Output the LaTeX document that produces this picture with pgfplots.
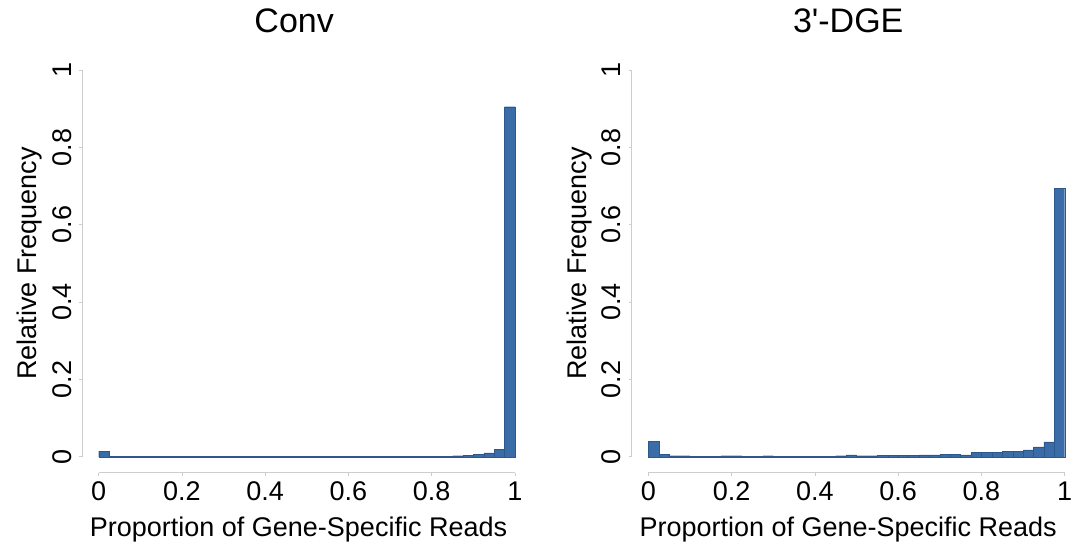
\documentclass[border=0pt]{standalone}
\usepackage{pgfplots}
\pgfplotsset{compat=1.18}
\usepackage{fontspec}
\setmainfont{Liberation Sans}
\definecolor{barblue}{RGB}{58,108,168}
\definecolor{baredge}{RGB}{45,88,140}
\definecolor{axgray}{RGB}{205,205,205}

\pgfplotstableread{
x y
0.000 0.015
0.025 0.002
0.050 0.002
0.075 0.002
0.100 0.001
0.125 0.001
0.150 0.001
0.175 0.001
0.200 0.001
0.225 0.001
0.250 0.001
0.275 0.001
0.300 0.001
0.325 0.001
0.350 0.001
0.375 0.001
0.400 0.001
0.425 0.001
0.450 0.001
0.475 0.001
0.500 0.001
0.525 0.001
0.550 0.001
0.575 0.001
0.600 0.001
0.625 0.001
0.650 0.001
0.675 0.001
0.700 0.001
0.725 0.001
0.750 0.002
0.775 0.002
0.800 0.002
0.825 0.002
0.850 0.003
0.875 0.004
0.900 0.006
0.925 0.010
0.950 0.019
0.975 0.905
1.000 0.905
}\convdata

\pgfplotstableread{
x y
0.000 0.040
0.025 0.006
0.050 0.003
0.075 0.003
0.100 0.002
0.125 0.002
0.150 0.002
0.175 0.003
0.200 0.003
0.225 0.002
0.250 0.002
0.275 0.003
0.300 0.002
0.325 0.002
0.350 0.002
0.375 0.002
0.400 0.002
0.425 0.002
0.450 0.003
0.475 0.005
0.500 0.003
0.525 0.003
0.550 0.004
0.575 0.004
0.600 0.004
0.625 0.004
0.650 0.005
0.675 0.005
0.700 0.006
0.725 0.007
0.750 0.005
0.775 0.011
0.800 0.011
0.825 0.011
0.850 0.014
0.875 0.014
0.900 0.018
0.925 0.026
0.950 0.039
0.975 0.694
1.000 0.694
}\dgedata

\pgfplotsset{histax/.style={
  scale only axis, width=433pt, height=402.7pt,
  xmin=-0.04, xmax=1.0, ymin=-0.041, ymax=1.0,
  axis x line*=bottom, axis y line*=left,
  axis line style={draw=none},
  clip=false,
  xtick={0,0.2,0.4,0.6,0.8,1}, ytick={0,0.2,0.4,0.6,0.8,1},
  xticklabels={0,0.2,0.4,0.6,0.8,1}, yticklabels={0,0.2,0.4,0.6,0.8,1},
  tick align=outside, major tick length=3pt,
  tick style={axgray, line width=0.8pt},
  ticklabel style={font=\fontsize{27}{32}\selectfont, text=black},
  xticklabel style={anchor=base, yshift=-25pt},
  yticklabel style={rotate=90, anchor=base, yshift=8pt},
  label style={font=\fontsize{27}{32}\selectfont},
  xlabel style={at={(axis description cs:0.5,0)}, anchor=base, yshift=-63.3pt},
  ylabel style={at={(axis description cs:0,0.5197)}, anchor=base, yshift=45.3pt},
  title style={font=\fontsize{34}{40}\selectfont, anchor=base, yshift=31.5pt},
  xlabel={Proportion of Gene-Specific Reads},
  ylabel={Relative Frequency},
}}

\begin{document}
\begin{tikzpicture}[x=1pt,y=1pt]
\useasboundingbox (0,0) rectangle (1084,541);
\begin{axis}[histax, at={(82pt,68.3pt)}, anchor=south west,
  title={Conv}, title style={at={(axis description cs:0.490,1)}}]
  \addplot[ybar interval, fill=barblue, draw=baredge, line width=0.3pt] table[x=x,y=y] {\convdata};
  \draw[axgray, line width=0.8pt] (axis cs:0,-0.041) -- (axis cs:1,-0.041);
  \draw[axgray, line width=0.8pt] (axis cs:-0.04,0) -- (axis cs:-0.04,1);
\end{axis}
\begin{axis}[histax, at={(631.7pt,68.3pt)}, anchor=south west,
  title={3\textquotesingle-DGE}, title style={at={(axis description cs:0.50,1)}}]
  \addplot[ybar interval, fill=barblue, draw=baredge, line width=0.3pt] table[x=x,y=y] {\dgedata};
  \draw[axgray, line width=0.8pt] (axis cs:0,-0.041) -- (axis cs:1,-0.041);
  \draw[axgray, line width=0.8pt] (axis cs:-0.04,0) -- (axis cs:-0.04,1);
\end{axis}
\end{tikzpicture}
\end{document}
